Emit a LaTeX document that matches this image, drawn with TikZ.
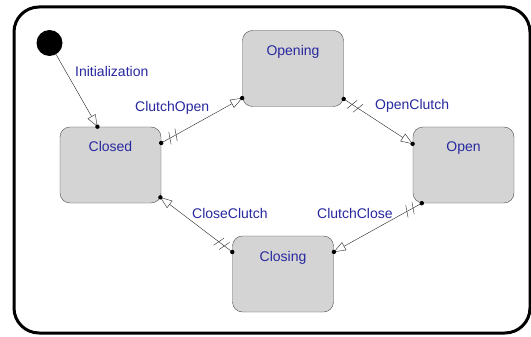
\documentclass[tikz,border=0pt]{standalone}
\usepackage{fontspec}
\setmainfont{Liberation Sans}
\usetikzlibrary{positioning}
\usetikzlibrary{arrows.meta}
\usetikzlibrary{decorations.markings}
\definecolor{labelblue}{RGB}{40,40,160}
\definecolor{stategray}{RGB}{212,212,212}
\tikzset{state/.style={rectangle, rounded corners=10pt, draw=black!70, fill=stategray,
minimum width=101pt, inner sep=0pt, text height=25pt, text depth=51pt,
text=labelblue, font=\fontsize{14}{14}\selectfont},
lbl/.style={text=labelblue, inner sep=0pt, font=\fontsize{14}{14}\selectfont},
initial/.style={circle, fill=black, minimum size=26pt, inner sep=0pt},
trans/.style={draw=black!85, -{Triangle[open, length=12pt, width=9pt, fill=white]},
  postaction={decorate}, decoration={markings,
  mark=at position 0.999 with {\fill (0,0) circle (2.2pt);}}},
guarded/.style={draw=black!85, -{Triangle[open, length=12pt, width=9pt, fill=white]},
  postaction={decorate}, decoration={markings,
  mark=at position 0 with {\fill (0,0) circle (2.2pt);},
  mark=at position 10pt with {\draw[-] (-2pt,-6pt) -- (2pt,6pt);},
  mark=at position 17pt with {\draw[-] (-2pt,-6pt) -- (2pt,6pt);},
  mark=at position 0.999 with {\fill (0,0) circle (2.2pt);}}}}
\begin{document}
\begin{tikzpicture}[x=1pt, y=-1pt]
  \useasboundingbox (0,0) rectangle (531,337);
  \fill[white] (0,0) rectangle (531,337);
  \draw[line width=3pt, rounded corners=25pt] (14,7) rectangle (530,333);

  \node (start) [initial] at (49.5,43) {};
  \node (closed) [state] at (110.5,165) {Closed};
  \node (opening) [state] at (293,68.5) {Opening};
  \node (open) [state] at (463.5,165) {Open};
  \node (closing) [state] at (283,274) {Closing};

  \draw [trans] (start) -- ([xshift=-13pt]closed.north);
  \draw [guarded] ([yshift=22pt]closed.east) -- ([yshift=-29.5pt]opening.west);
  \draw [guarded] ([yshift=-30.5pt]opening.east) -- ([yshift=21pt]open.west);
  \draw [guarded] ([xshift=9pt]open.south west) -- ([yshift=22pt]closing.east);
  \draw [guarded] ([yshift=22pt]closing.west) -- ([shift={(-1pt,6pt)}]closed.south east);

  \node (initlbl) [lbl, anchor=west] at (75,71) {Initialization};
  \node (clutchopenlbl) [lbl, anchor=west] at (135,108) {ClutchOpen};
  \node (openclutchlbl) [lbl, anchor=west] at (375,106) {OpenClutch};
  \node (clutchcloselbl) [lbl, anchor=west] at (317,213) {ClutchClose};
  \node (closeclutchlbl) [lbl, anchor=west] at (192,213) {CloseClutch};
\end{tikzpicture}
\end{document}
